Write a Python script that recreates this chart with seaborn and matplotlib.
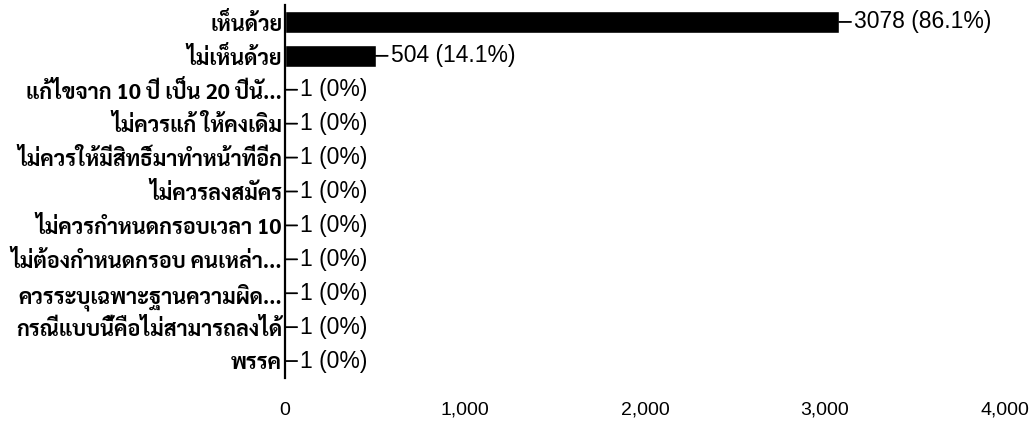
import pandas as pd
import matplotlib.pyplot as plt
import seaborn as sns

# survey answers, as shown top to bottom
answers = [
    'เห็นด้วย',
    'ไม่เห็นด้วย',
    'แก้ไขจาก 10 ปี เป็น 20 ปีนั...',
    'ไม่ควรแก้ ให้คงเดิม',
    'ไม่ควรให้มีสิทธิ์มาทำหน้าที่อีก',
    'ไม่ควรลงสมัคร',
    'ไม่ควรกำหนดกรอบเวลา 10',
    'ไม่ต้องกำหนดกรอบ คนเหล่า...',
    'ควรระบุเฉพาะฐานความผิด...',
    'กรณีแบบนี้คือไม่สามารถลงได้',
    'พรรค',
]
counts = [3078, 504, 1, 1, 1, 1, 1, 1, 1, 1, 1]
percents = ['86.1%', '14.1%', '0%', '0%', '0%', '0%', '0%', '0%', '0%', '0%', '0%']
xticks = [0, 1000, 2000, 3000, 4000]

sns.set_theme(style='white')
plt.rcParams['font.family'] = ['Sarabun', 'Niramit', 'DejaVu Sans']
plt.rcParams['text.color'] = 'black'
plt.rcParams['xtick.color'] = 'black'
plt.rcParams['ytick.color'] = 'black'

df = pd.DataFrame({'answer': answers, 'count': counts})

fig = plt.figure(figsize=(10.34, 4.23), dpi=100)
ax = fig.add_axes([0.2756, 0.1064, 0.6964, 0.8818])
sns.barplot(x='count', y='answer', data=df, color='black', saturation=1,
            width=0.66, orient='h', ax=ax)

ax.set_xlim(0, 4000)
ax.set_ylim(10.5, -0.5)
ax.set_xlabel('')
ax.set_ylabel('')

ax.set_xticks(xticks)
ax.set_xticklabels([f'{t:,}' for t in xticks], family='Liberation Sans', fontsize=14)
ax.tick_params(axis='x', length=0, pad=17, labelcolor='black')
ax.tick_params(axis='y', length=0, pad=2, labelsize=15.5, labelcolor='black')
for lab in ax.get_yticklabels():
    lab.set_fontweight('bold')

sns.despine(ax=ax, left=False, bottom=True)
ax.spines['left'].set_color('black')
ax.spines['left'].set_linewidth(1.6)

# value labels with a short leader line
for i, (c, p) in enumerate(zip(counts, percents)):
    ax.annotate(f'{c} ({p})', xy=(c, i), xytext=(11, 0), textcoords='offset points',
                va='center', ha='left', fontsize=16.5, family='Liberation Sans',
                color='black',
                arrowprops=dict(arrowstyle='-', lw=1.3, color='black',
                                shrinkA=0, shrinkB=0))

fig.savefig('out.png', dpi=100, facecolor='white')
